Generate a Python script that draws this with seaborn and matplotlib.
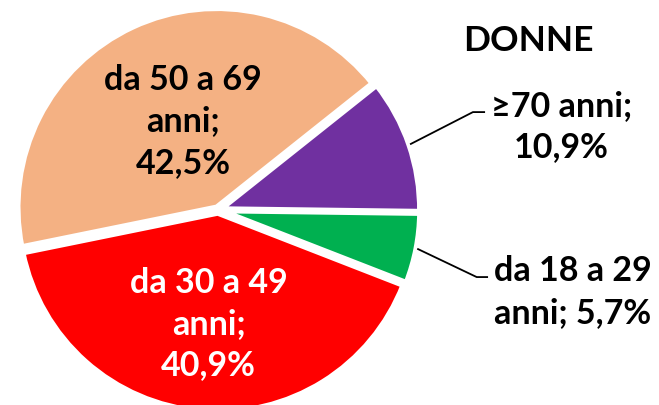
import numpy as np
import matplotlib
matplotlib.use("Agg")
import matplotlib.pyplot as plt
import seaborn as sns

# data (women, age groups)
labels = ["≥70 anni", "da 18 a 29\nanni", "da 30 a 49\nanni", "da 50 a 69\nanni"]
values = [10.9, 5.7, 40.9, 42.5]
pct_text = ["10,9%", "5,7%", "40,9%", "42,5%"]
colors = ["#7030A0", "#00B050", "#FF0000", "#F4B183"]
title = "DONNE"

sns.set_theme(style="white")
plt.rcParams['font.family'] = ['Lato', 'DejaVu Sans']

fig = plt.figure(figsize=(6.59, 4.06), dpi=100)
ax = fig.add_axes([0, 0, 1, 1])

wedges, _ = ax.pie(values, colors=sns.color_palette(colors), startangle=38.5,
                   counterclock=False, explode=[0.015] * 4,
                   wedgeprops=dict(edgecolor="white", linewidth=4))

# pixel layout: pie centre at (218, 211), radius 199 px
ax.set_xlim(-218 / 199, (659 - 218) / 199)
ax.set_ylim(-(406 - 211) / 199, 211 / 199)
ax.set_aspect('equal')
ax.axis('off')

def mid_angle(w):
    return np.deg2rad((w.theta1 + w.theta2) / 2)

fs = 24.5
# labels inside the two big slices
inside = {3: (0.52, 0.045, "black"), 2: (0.55, 0.0, "white")}
for i, (r, dx, col) in inside.items():
    a = mid_angle(wedges[i])
    ax.text(r * np.cos(a) + dx, r * np.sin(a) - 0.02, f"{labels[i]};\n{pct_text[i]}",
            ha="center", va="center", ma="center", fontsize=fs, fontweight="bold",
            color=col, linespacing=1.36)

# outside labels with leader lines
outside = {
    0: ((1.281, 0.492), (1.342, 0.492), (1.724, 0.425), f"{labels[0]};\n{pct_text[0]}"),
    1: ((1.30, -0.337), (1.357, -0.337), (1.784, -0.407), f"{labels[1]}; {pct_text[1]}"),
}
for i, (elbow, end, pos, txt) in outside.items():
    a = mid_angle(wedges[i])
    start = (1.02 * np.cos(a), 1.02 * np.sin(a))
    ax.plot([start[0], elbow[0], end[0]], [start[1], elbow[1], end[1]],
            color="black", lw=1.3, solid_capstyle="butt")
    ax.text(pos[0], pos[1], txt, ha="center", va="center", ma="center",
            fontsize=fs, fontweight="bold", color="black", linespacing=1.36)

ax.text(1.558, 0.854, title, ha="center", va="center", fontsize=25.5,
        fontweight="bold", color="black")

fig.savefig("out.png", dpi=100)
